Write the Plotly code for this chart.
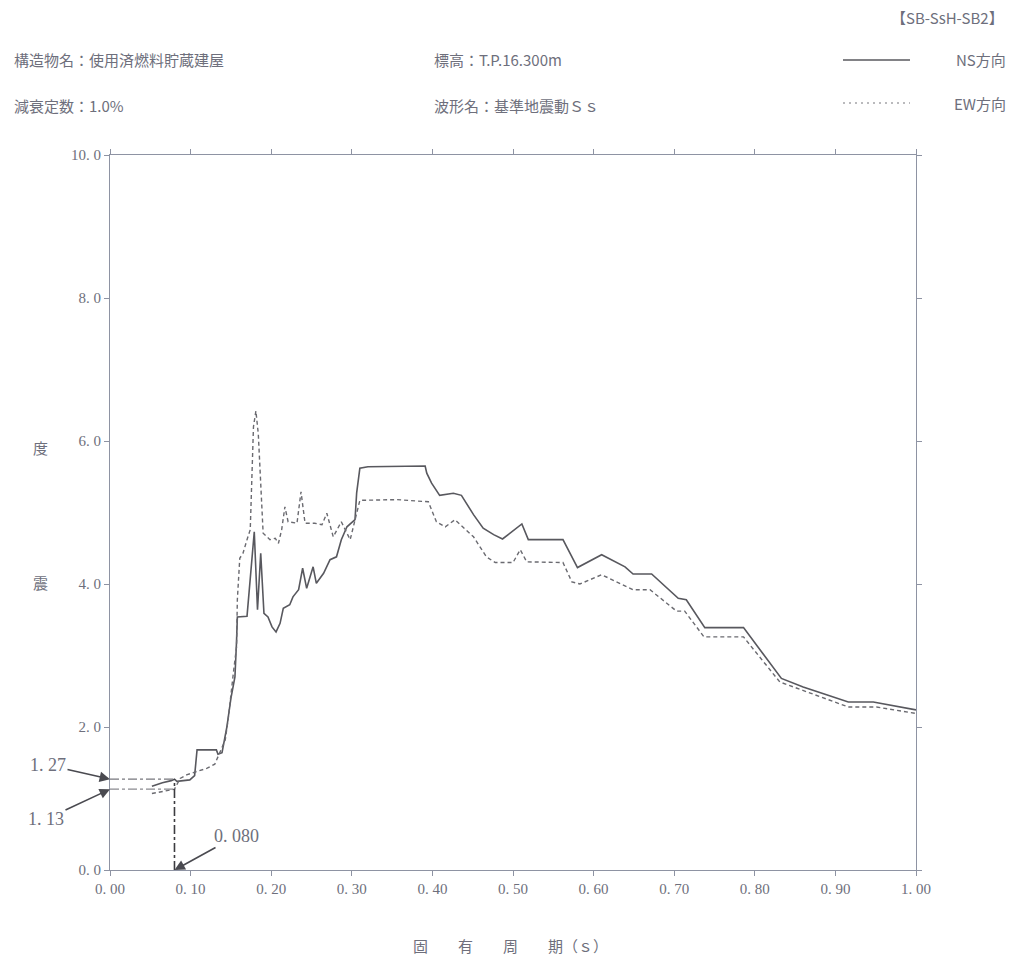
import plotly.graph_objects as go

# ---- data ----
ns_period = [0.052, 0.060, 0.065, 0.076, 0.080, 0.083, 0.099, 0.105, 0.108, 0.132,
             0.134, 0.139, 0.145, 0.150, 0.155, 0.157, 0.158, 0.170, 0.179, 0.183,
             0.187, 0.191, 0.196, 0.201, 0.206, 0.211, 0.215, 0.223, 0.227, 0.234,
             0.239, 0.244, 0.252, 0.256, 0.265, 0.273, 0.281, 0.287, 0.294, 0.304,
             0.306, 0.310, 0.320, 0.391, 0.393, 0.399, 0.409, 0.426, 0.436, 0.451,
             0.463, 0.476, 0.487, 0.511, 0.519, 0.562, 0.580, 0.610, 0.639, 0.649,
             0.672, 0.705, 0.715, 0.738, 0.786, 0.833, 0.860, 0.889, 0.916, 0.947,
             1.000]
ns_value = [1.17, 1.20, 1.22, 1.25, 1.27, 1.24, 1.26, 1.32, 1.68, 1.68,
            1.62, 1.64, 2.00, 2.40, 2.70, 3.20, 3.54, 3.55, 4.73, 3.64,
            4.43, 3.59, 3.54, 3.40, 3.33, 3.45, 3.66, 3.71, 3.82, 3.92,
            4.22, 3.94, 4.24, 4.01, 4.15, 4.34, 4.38, 4.62, 4.80, 4.90,
            5.27, 5.62, 5.64, 5.65, 5.55, 5.41, 5.24, 5.27, 5.24, 4.97,
            4.78, 4.69, 4.63, 4.84, 4.62, 4.62, 4.23, 4.41, 4.24, 4.14,
            4.14, 3.80, 3.78, 3.39, 3.39, 2.68, 2.56, 2.45, 2.35, 2.35,
            2.24]

ew_period = [0.052, 0.065, 0.080, 0.087, 0.095, 0.108, 0.120, 0.130, 0.136, 0.143,
             0.147, 0.150, 0.153, 0.157, 0.158, 0.161, 0.165, 0.170, 0.174, 0.178,
             0.181, 0.184, 0.190, 0.1985, 0.205, 0.209, 0.213, 0.217, 0.221, 0.232,
             0.237, 0.242, 0.254, 0.263, 0.269, 0.277, 0.287, 0.298, 0.304, 0.310,
             0.356, 0.380, 0.395, 0.405, 0.416, 0.428, 0.451, 0.467, 0.478, 0.500,
             0.509, 0.517, 0.562, 0.573, 0.583, 0.610, 0.649, 0.670, 0.703, 0.713,
             0.737, 0.786, 0.831, 0.916, 0.951, 1.000]
ew_value = [1.07, 1.10, 1.13, 1.28, 1.33, 1.38, 1.42, 1.48, 1.63, 1.82,
            2.14, 2.47, 2.75, 3.12, 3.78, 4.36, 4.43, 4.62, 4.76, 6.20,
            6.42, 6.10, 4.71, 4.62, 4.64, 4.57, 4.76, 5.08, 4.87, 4.85,
            5.29, 4.85, 4.85, 4.83, 4.99, 4.66, 4.87, 4.62, 4.90, 5.17,
            5.18, 5.16, 5.15, 4.87, 4.80, 4.90, 4.66, 4.38, 4.30, 4.30,
            4.48, 4.31, 4.30, 4.03, 4.00, 4.13, 3.92, 3.92, 3.62, 3.62,
            3.26, 3.26, 2.63, 2.28, 2.28, 2.19]

x_ticks = [0.0, 0.1, 0.2, 0.3, 0.4, 0.5, 0.6, 0.7, 0.8, 0.9, 1.0]
y_ticks = [0.0, 2.0, 4.0, 6.0, 8.0, 10.0]

period_mark = 0.080
ns_mark = 1.27
ew_mark = 1.13

assert len(ns_period) == len(ns_value)
assert len(ew_period) == len(ew_value)

# ---- styling ----
OFF = 8                      # default page body margin
W, H = 1019 - OFF, 964 - OFF
L, R, T, B = 110, 916, 155, 870   # plot area in window pixels
TXT = "#6e6f7c"
AX = "#8e93a3"
LINE = "#58585e"
JP = "Noto Sans CJK JP"
NUM = "Liberation Serif"


def px(x):
    return (x - L) / (R - L)


def py(y):
    return (B - y) / (B - T)


fig = go.Figure()

fig.add_trace(go.Scatter(x=ns_period, y=ns_value, mode="lines", name="NS方向",
                         line=dict(color=LINE, width=1.6), showlegend=False))
fig.add_trace(go.Scatter(x=ew_period, y=ew_value, mode="lines", name="EW方向",
                         line=dict(color="#6a6a70", width=1.4, dash="4px,3px"),
                         showlegend=False))

# dash-dot reference lines
fig.add_trace(go.Scatter(x=[0, period_mark], y=[ns_mark, ns_mark], mode="lines",
                         line=dict(color="#77777d", width=1.3, dash="dashdot"),
                         showlegend=False, hoverinfo="skip"))
fig.add_trace(go.Scatter(x=[0, period_mark], y=[ew_mark, ew_mark], mode="lines",
                         line=dict(color="#8a8a90", width=1.3, dash="dashdot"),
                         showlegend=False, hoverinfo="skip"))
fig.add_trace(go.Scatter(x=[period_mark, period_mark], y=[0, ns_mark], mode="lines",
                         line=dict(color="#3c3c40", width=1.6, dash="dashdot"),
                         showlegend=False, hoverinfo="skip"))

ann = []
arrow_common = dict(showarrow=True, arrowhead=2, arrowsize=1.3, arrowwidth=1.6,
                    arrowcolor="#4a4a50", font=dict(family=NUM, size=18, color=TXT))
ann.append(dict(x=0, y=ns_mark, xref="x", yref="y", text="1. 27",
                ax=-62, ay=-14, **arrow_common))
ann.append(dict(x=0, y=ew_mark, xref="x", yref="y", text="1. 13",
                ax=-64, ay=30, **arrow_common))
ann.append(dict(x=period_mark, y=0, xref="x", yref="y", text="0. 080",
                ax=62, ay=-34, **arrow_common))


def txt(x, y, s, anchor="left", size=15, family=JP):
    ann.append(dict(x=px(x), y=py(y), xref="paper", yref="paper", text=s,
                    showarrow=False, xanchor=anchor, yanchor="middle",
                    font=dict(family=family, size=size, color=TXT)))


txt(12, 60, "構造物名：使用済燃料貯蔵建屋")
txt(12, 106, "減衰定数：1.0%")
txt(432, 60, "標高：T.P.16.300m")
txt(432, 106, "波形名：基準地震動Ｓｓ")
txt(1006, 18, "【SB-SsH-SB2】", anchor="right")
txt(1008, 60, "NS方向", anchor="right")
txt(1008, 104, "EW方向", anchor="right")
txt(40, 447, "度", anchor="center")
txt(40, 582, "震", anchor="center")
txt(510, 945, "固　　有　　周　　期（ｓ）", anchor="center")

shapes = [
    dict(type="line", xref="paper", yref="paper", x0=px(843), x1=px(910),
         y0=py(60), y1=py(60), line=dict(color=LINE, width=1.4)),
    dict(type="line", xref="paper", yref="paper", x0=px(843), x1=px(910),
         y0=py(103), y1=py(103), line=dict(color="#77777d", width=1.2, dash="2px,4px")),
]

fig.update_layout(
    width=W, height=H,
    margin=dict(l=L - OFF, r=W - (R - OFF), t=T - OFF, b=H - (B - OFF), pad=0),
    paper_bgcolor="white", plot_bgcolor="white",
    annotations=ann, shapes=shapes,
    showlegend=False,
)
fig.update_xaxes(range=[0, 1.0], tickvals=x_ticks,
                 ticktext=[f"{v:.2f}".replace(".", ". ") for v in x_ticks],
                 showgrid=False, zeroline=False, showline=True, linecolor=AX,
                 linewidth=1.2, mirror="ticks", ticks="outside", ticklen=5,
                 tickcolor=AX, tickfont=dict(family=NUM, size=15, color=TXT))
fig.update_yaxes(range=[0, 10.0], tickvals=y_ticks,
                 ticktext=[f"{v:.1f}".replace(".", ". ") for v in y_ticks],
                 showgrid=False, zeroline=False, showline=True, linecolor=AX,
                 linewidth=1.2, mirror="ticks", ticks="outside", ticklen=5,
                 tickcolor=AX, tickfont=dict(family=NUM, size=15, color=TXT))

fig.write_html("out.html")
